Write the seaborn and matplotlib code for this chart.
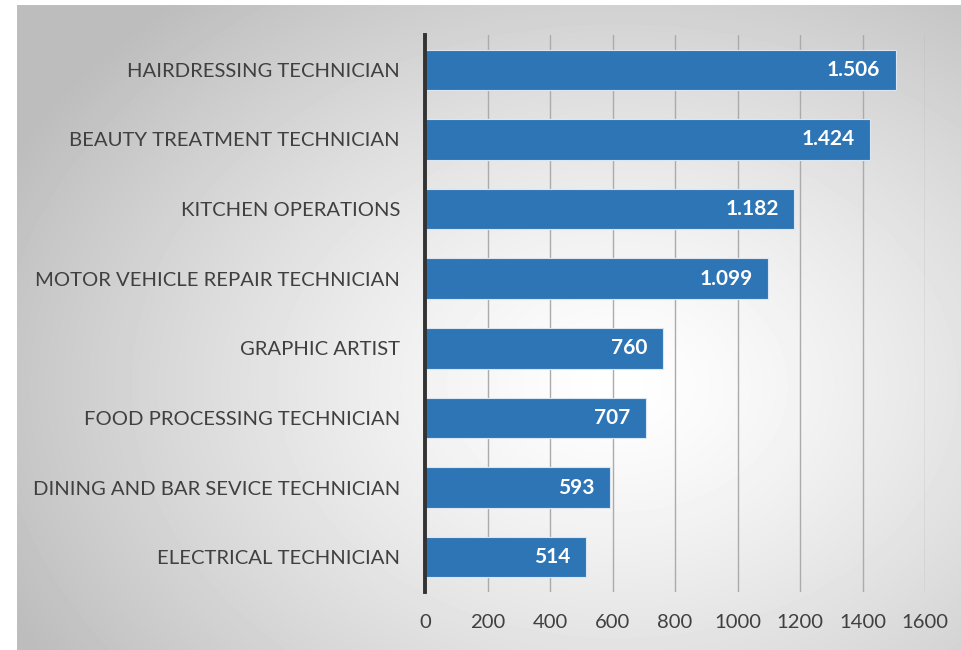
import numpy as np
import pandas as pd
import matplotlib.pyplot as plt
import seaborn as sns

# Chart data
categories = ['HAIRDRESSING TECHNICIAN', 'BEAUTY TREATMENT TECHNICIAN',
              'KITCHEN OPERATIONS', 'MOTOR VEHICLE REPAIR TECHNICIAN',
              'GRAPHIC ARTIST', 'FOOD PROCESSING TECHNICIAN',
              'DINING AND BAR SEVICE TECHNICIAN', 'ELECTRICAL TECHNICIAN']
values = [1506, 1424, 1182, 1099, 760, 707, 593, 514]
x_ticks = [0, 200, 400, 600, 800, 1000, 1200, 1400, 1600]

df = pd.DataFrame({'category': categories, 'value': values})

sns.set_style("white")
plt.rcParams['font.family'] = ['Lato', 'DejaVu Sans']

W, H = 961, 650
fig = plt.figure(figsize=(W / 100, H / 100), dpi=100)
fig.patch.set_facecolor('white')

# Radial gradient background
bg = fig.add_axes([17 / W, 0, (W - 17) / W, (H - 5) / H], zorder=0)
yy, xx = np.mgrid[0:645, 0:944]
cx, cy = 600, 380
r = np.sqrt(((xx - cx) / 700.0) ** 2 + ((yy - cy) / 520.0) ** 2)
shade = np.clip(1.0 - 0.27 * r ** 1.3, 0.74, 1.0)
bg.imshow(shade, cmap='gray', vmin=0, vmax=1, aspect='auto',
          extent=[0, 1, 0, 1], origin='upper')
bg.axis('off')

ax = fig.add_axes([425 / W, 58 / H, 500 / W, 557 / H], zorder=1)
ax.patch.set_alpha(0)

sns.barplot(data=df, x='value', y='category', orient='h', color='#2E75B6',
            saturation=1, width=0.58, edgecolor='#dce6f2', linewidth=0.8,
            ax=ax, zorder=3)

ax.set_xlim(0, 1600)
ax.set_ylim(7.5, -0.5)
ax.set_xticks(x_ticks)
ax.set_xticklabels([str(t) for t in x_ticks])
ax.set_xlabel('')
ax.set_ylabel('')

for t in x_ticks[1:]:
    ax.axvline(t, color='#ababab', linewidth=1, zorder=1)

for s in ['top', 'right', 'bottom']:
    ax.spines[s].set_visible(False)
ax.spines['left'].set_color('#333333')
ax.spines['left'].set_linewidth(2.8)
ax.spines['left'].set_zorder(4)

ax.tick_params(axis='both', length=0, labelsize=14.6, labelcolor='#404040')
ax.tick_params(axis='y', pad=18)
ax.tick_params(axis='x', pad=16)

for i, v in enumerate(values):
    label = f'{v:,}'.replace(',', '.')
    ax.text(v - 50, i, label, color='white', fontsize=15, fontweight='bold',
            ha='right', va='center', zorder=5)

fig.savefig('out.png', dpi=100)
